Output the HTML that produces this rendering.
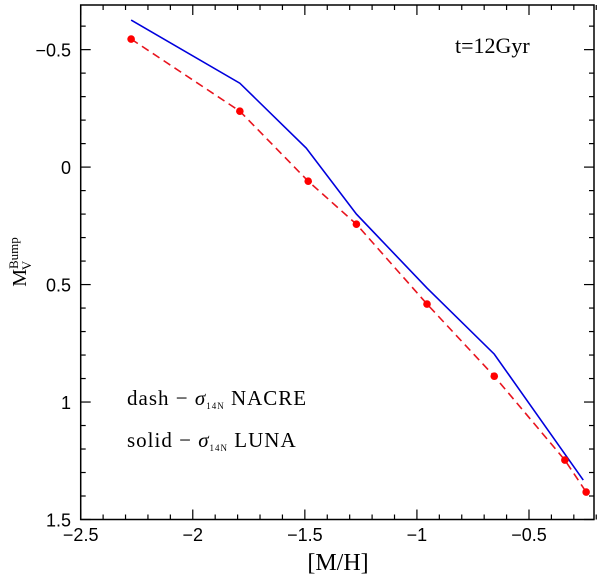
<!DOCTYPE html>
<html><head><meta charset="utf-8"><style>
html,body{margin:0;padding:0;background:#fff;}
svg{display:block;}
text{font-family:"Liberation Sans",sans-serif;}
.lab{font-family:"Liberation Serif",serif;}
</style></head><body>
<svg id="chart" width="600" height="577" viewBox="0 0 600 577" xmlns="http://www.w3.org/2000/svg">
<g id="ticks"></g>
<g id="series"></g>
<rect x="80.7" y="5" width="513.3" height="514.5" fill="none" stroke="#000" stroke-width="1.5"/>
<text class="lab" x="455" y="53" font-size="22">t=12Gyr</text>
<text class="lab" x="127" y="405" font-size="21" letter-spacing="1">dash − <tspan font-style="italic">σ</tspan><tspan font-size="9" dy="4">14N</tspan><tspan dy="-4"> NACRE</tspan></text>
<text class="lab" x="127" y="447" font-size="21" letter-spacing="1">solid − <tspan font-style="italic">σ</tspan><tspan font-size="9" dy="4">14N</tspan><tspan dy="-4"> LUNA</tspan></text>
<text class="lab" x="338" y="570" font-size="24" text-anchor="middle">[M/H]</text>
<g transform="translate(26,262) rotate(-90)">
<text class="lab" x="0" y="0" font-size="20" text-anchor="middle">M<tspan font-size="13" dy="-8">Bump</tspan><tspan font-size="13" dx="-33" dy="13">V</tspan></text>
</g>
</svg>
<script>
const redX=[-2.275,-1.79,-1.485,-1.27,-0.955,-0.655,-0.34,-0.245];
const redY=[-0.545,-0.238,0.06,0.243,0.583,0.89,1.247,1.383];
const blueX=[-2.275,-1.79,-1.494,-1.27,-0.955,-0.655,-0.258];
const blueY=[-0.626,-0.357,-0.081,0.2,0.515,0.796,1.332];
const xTickLabels=["−2.5","−2","−1.5","−1","−0.5"];
const xTickValues=[-2.5,-2,-1.5,-1,-0.5];
const yTickLabels=["−0.5","0","0.5","1","1.5"];
const yTickValues=[-0.5,0,0.5,1,1.5];

const L=80.7,R=594,T=5,B=519.5,XMIN=-2.5,XMAX=-0.21,YMIN=-0.69,YMAX=1.5;
const sx=v=>L+(v-XMIN)/(XMAX-XMIN)*(R-L);
const sy=v=>T+(v-YMIN)/(YMAX-YMIN)*(B-T);
const NS="http://www.w3.org/2000/svg";
function mk(t,a,p){const e=document.createElementNS(NS,t);for(const k in a)e.setAttribute(k,a[k]);p.appendChild(e);return e;}
const tg=document.getElementById('ticks'),sg=document.getElementById('series');
for(let i=-25;i<=-2;i++){const v=i/10,x=sx(v),len=(i%5===0)?10:5;
 let l=mk('line',{x1:x,x2:x,y1:B,y2:B-len,stroke:'#000','stroke-width':1.2},tg);
 
 l=mk('line',{x1:x,x2:x,y1:T,y2:T+len,stroke:'#000','stroke-width':1.2},tg);
 }
for(let i=-6;i<=15;i++){const v=i/10,y=sy(v),len=(i%5===0)?10:5;
 let l=mk('line',{x1:L,x2:L+len,y1:y,y2:y,stroke:'#000','stroke-width':1.2},tg);
 
 l=mk('line',{x1:R,x2:R-len,y1:y,y2:y,stroke:'#000','stroke-width':1.2},tg);
 }
xTickValues.forEach((v,i)=>{const t=mk('text',{x:sx(v),y:541,'font-size':18,'text-anchor':'middle'},tg);t.textContent=xTickLabels[i];
 });
yTickValues.forEach((v,i)=>{const t=mk('text',{x:71,y:sy(v)+7,'font-size':18,'text-anchor':'end'},tg);t.textContent=yTickLabels[i];
 });
const bl=mk('polyline',{points:blueX.map((x,i)=>sx(x)+','+sy(blueY[i])).join(' '),fill:'none',stroke:'#0000dd','stroke-width':1.6},sg);

const rl=mk('polyline',{points:redX.map((x,i)=>sx(x)+','+sy(redY[i])).join(' '),fill:'none',stroke:'#e8141e','stroke-width':1.6,'stroke-dasharray':'8,5'},sg);

redX.forEach((x,i)=>{const c=mk('circle',{cx:sx(x),cy:sy(redY[i]),r:3.8,fill:'#ff0000'},sg);
 });
</script>
</body></html>
